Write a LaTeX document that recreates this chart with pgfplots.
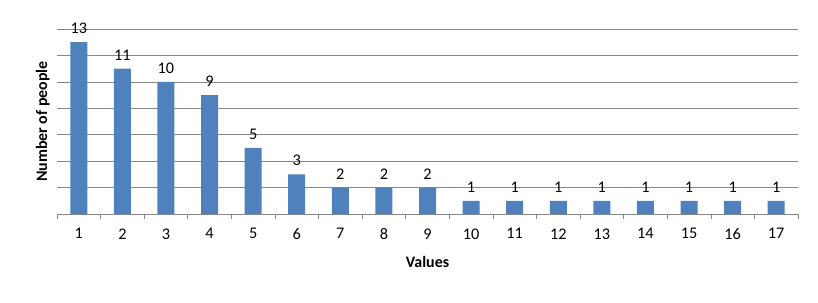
\documentclass[border=0pt]{standalone}
\usepackage{pgfplots}
\pgfplotsset{compat=1.18}
\usepackage{fontspec}
\setmainfont{Carlito}
\definecolor{barblue}{HTML}{4F81BD}
\definecolor{gridgray}{HTML}{878787}
\begin{document}
\begin{tikzpicture}
\begin{axis}[
  scale only axis,
  width=741bp, height=185bp,
  xmin=0.5, xmax=17.5,
  ymin=0, ymax=14,
  ybar, bar width=17bp,
  axis x line*=bottom,
  axis y line*=left,
  x axis line style={gridgray, line width=0.6pt},
  y axis line style={draw=none},
  /pgf/number format/assume math mode=true,
  xtick={1,...,17},
  major tick length=0pt,
  minor xtick={0.5,1.5,...,17.5},
  minor tick length=5bp,
  xtick align=outside,
  minor tick style={gridgray, line width=0.6pt},
  ytick={2,4,...,14},
  ytick style={draw=none},
  ymajorgrids,
  grid style={gridgray, line width=0.6pt},
  yticklabels={},
  tick label style={font=\fontsize{16.3}{19}\selectfont},
  xticklabel style={yshift=-11bp},
  xlabel={\textbf{Values}},
  xlabel style={font=\fontsize{16}{19}\selectfont, yshift=-10bp},
  ylabel={\textbf{Number of people}},
  ylabel style={font=\fontsize{16}{19}\selectfont, yshift=-3bp},
  nodes near coords,
  nodes near coords style={font=\fontsize{16.3}{19}\selectfont, yshift=5bp},
  clip=false,
]
\addplot[fill=barblue, draw=none] coordinates {
(1,13) (2,11) (3,10) (4,9) (5,5) (6,3) (7,2) (8,2) (9,2)
(10,1) (11,1) (12,1) (13,1) (14,1) (15,1) (16,1) (17,1)};
\end{axis}
\path (-57bp,-89bp) rectangle (761bp,214bp);
\end{tikzpicture}
\end{document}
